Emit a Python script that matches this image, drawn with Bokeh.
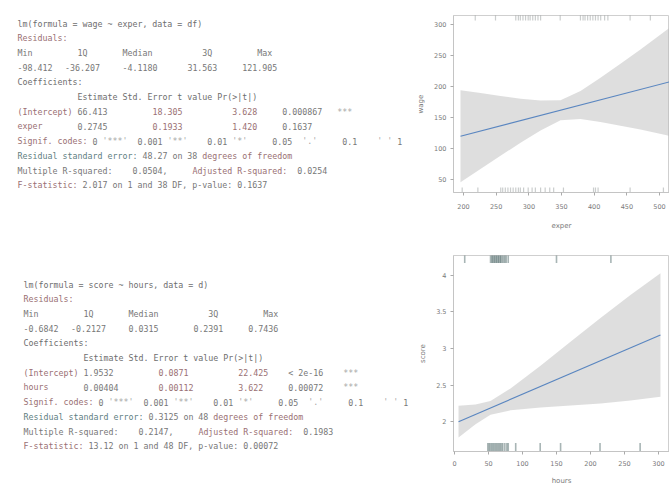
from bokeh.plotting import figure
from bokeh.layouts import row, column
from bokeh.models import ColumnDataSource, Range1d, FixedTicker
from bokeh.core.properties import value
from bokeh.embed import file_html
from bokeh.resources import INLINE

# ---------------- data: model summaries ----------------
resid_labels = ["Min", "1Q", "Median", "3Q", "Max"]
coef_header = "Estimate Std. Error t value Pr(>|t|)"

formula1 = "lm(formula = wage ~ exper, data = df)"
resid1 = [-98.412, -36.207, -4.118, 31.563, 121.905]
names1 = ["(Intercept)", "exper"]
est1 = [66.4129, 0.2745]
se1 = [18.3052, 0.1933]
tval1 = [3.628, 1.420]
pval1 = ["0.000867", "0.1637"]
stars1 = ["***", ""]
rse1, dof1, r2_1, adjr2_1, fstat1, fp1 = 48.27, 38, 0.0504, 0.0254, 2.017, "0.1637"

formula2 = "lm(formula = score ~ hours, data = d)"
resid2 = [-0.6842, -0.2127, 0.0315, 0.2391, 0.7436]
names2 = ["(Intercept)", "hours"]
est2 = [1.9532, 0.00404]
se2 = [0.0871, 0.00112]
tval2 = [22.425, 3.622]
pval2 = ["< 2e-16", "0.00072"]
stars2 = ["***", "***"]
rse2, dof2, r2_2, adjr2_2, fstat2, fp2 = 0.3125, 48, 0.2147, 0.1983, 13.12, "0.00072"

signif_tokens = ["Signif.", "codes:", "0", "'***'", "0.001", "'**'", "0.01", "'*'",
                 "0.05", "'.'", "0.1", "' '", "1"]

# ---------------- data: plot 1 ----------------
fit1_x = [195.4, 515.3]
fit1_y = [119.7, 207.4]
band1_x = [195.4, 226.0, 256.6, 287.3, 317.9, 348.5, 379.1, 409.7, 440.3, 470.9, 515.3]
band1_lo = [45.5, 66.8, 88.1, 109.4, 129.0, 145.5, 147.4, 142.9, 136.8, 130.6, 120.3]
band1_hi = [193.9, 189.4, 184.8, 180.3, 177.4, 177.7, 192.6, 213.9, 236.8, 259.7, 294.5]
rug1_top = [218, 249, 280, 284, 287, 291, 295, 299, 302, 306, 310, 314, 318, 348,
            379, 383, 386, 390, 394, 398, 402, 406, 410, 416, 421, 455, 486]
rug1_bottom = [198, 222, 257, 260, 264, 268, 272, 276, 280, 284, 287, 292, 299, 305,
               310, 318, 325, 332, 338, 353, 399, 402, 406, 455, 506]
xticks1 = [200, 250, 300, 350, 400, 450, 500]
yticks1 = [50, 100, 150, 200, 250, 300]

# ---------------- data: plot 2 ----------------
fit2_x = [5.9, 302.9]
fit2_y = [2.0, 3.185]
band2_x = [5.9, 30.9, 52.9, 82.4, 126.5, 170.6, 214.7, 258.8, 302.9]
band2_lo = [1.782, 1.963, 2.093, 2.155, 2.195, 2.220, 2.248, 2.288, 2.341]
band2_hi = [2.218, 2.235, 2.283, 2.454, 2.766, 3.091, 3.418, 3.731, 4.029]
rug2_top = [15, 53, 55, 56, 58, 59, 61, 62, 64, 65, 67, 68, 70, 72, 74, 76, 79, 150, 230]
rug2_bottom = [49, 51, 53, 55, 57, 59, 61, 63, 65, 67, 69, 71, 74, 77, 79, 90, 126, 156, 214, 273]
xticks2 = [0, 50, 100, 150, 200, 250, 300]
yticks2 = [2.0, 2.5, 3.0, 3.5, 4.0]

# ---------------- styles ----------------
GRAY = "#777777"
DGRAY = "#6e6e6e"
MAUVE = "#9a7073"
TEAL = "#5f8082"
LIGHT = "#a8a8a8"
MONO = "DejaVu Sans Mono"
FS = 8.3
CW = 0.602 * FS
LH = 14.7

RES_HEAD_COLS = [0, 12, 21, 37, 48]
RES_VAL_COLS = [0, 9.5, 21, 34, 45]
COEF_COLS = [0, 12, 27, 43, 53, 64]
SIGNIF_COLS = [0, 8, 15, 17, 24, 30, 38, 43, 51, 57, 65, 72, 76]
SIGNIF_COLORS = [MAUVE, MAUVE, GRAY, LIGHT, GRAY, LIGHT, GRAY, LIGHT, GRAY, LIGHT, GRAY, LIGHT, GRAY]

recs = {"x": [], "y": [], "text": [], "color": []}


def put(x0, y, col, txt, color):
    recs["x"].append(x0 + col * CW)
    recs["y"].append(y)
    recs["text"].append(txt)
    recs["color"].append(color)


def block(x0, y0, formula, resid, names, est, se, tv, pv, st, rse, dof, r2, adj, fst, fp):
    def yy(i):
        return y0 + i * LH
    put(x0, yy(0), 0, formula, DGRAY)
    put(x0, yy(1), 0, "Residuals:", MAUVE)
    for c, lab in zip(RES_HEAD_COLS, resid_labels):
        put(x0, yy(2), c, lab, GRAY)
    for c, v in zip(RES_VAL_COLS, resid):
        put(x0, yy(3), c, f"{v:.3f}" if abs(v) >= 10 else f"{v:.4f}", GRAY)
    put(x0, yy(4), 0, "Coefficients:", DGRAY)
    put(x0, yy(5), 12, coef_header, DGRAY)
    for i in range(2):
        vals = [names[i], f"{est[i]:.5g}", f"{se[i]:.5g}", f"{tv[i]:.3f}", pv[i], st[i]]
        cols = [MAUVE, GRAY, MAUVE, MAUVE, GRAY, LIGHT]
        for c, t, colr in zip(COEF_COLS, vals, cols):
            put(x0, yy(6 + i), c, t, colr)
    for c, t, colr in zip(SIGNIF_COLS, signif_tokens, SIGNIF_COLORS):
        put(x0, yy(8), c, t, colr)
    put(x0, yy(9), 0, "Residual standard error:", TEAL)
    put(x0, yy(9), 25, f"{rse:g} on {dof}", GRAY)
    put(x0, yy(9), 25 + len(f"{rse:g} on {dof}") + 1, "degrees of freedom", MAUVE)
    put(x0, yy(10), 0, "Multiple R-squared:", GRAY)
    put(x0, yy(10), 23, f"{r2:.4f},", GRAY)
    put(x0, yy(10), 35, "Adjusted R-squared:", MAUVE)
    put(x0, yy(10), 56, f"{adj:.4f}", GRAY)
    put(x0, yy(11), 0, "F-statistic:", MAUVE)
    put(x0, yy(11), 13, f"{fst:g} on 1 and {dof} DF,  p-value: {fp}", GRAY)


block(17, 23, formula1, resid1, names1, est1, se1, tval1, pval1, stars1,
      rse1, dof1, r2_1, adjr2_1, fstat1, fp1)
block(23, 284, formula2, resid2, names2, est2, se2, tval2, pval2, stars2,
      rse2, dof2, r2_2, adjr2_2, fstat2, fp2)

TW, TH = 413, 487
pt = figure(width=TW, height=TH, x_range=Range1d(0, TW), y_range=Range1d(TH, 0),
            x_axis_type=None, y_axis_type=None, output_backend="svg",
            toolbar_location=None, min_border=0)
pt.grid.visible = False
pt.outline_line_color = None
pt.text(x="x", y="y", text="text", text_color="color", source=ColumnDataSource(recs),
        text_font=value(MONO), text_font_size=f"{FS}px", text_baseline="middle",
        text_align="left")


def make_plot(h, btop, bbot, xr, yr, xt, yt, xlab, ylab, xstand, xlabstand):
    p = figure(width=256, height=h, x_range=Range1d(*xr), y_range=Range1d(*yr),
               output_backend="svg", toolbar_location=None,
               min_border_left=40, min_border_right=0, min_border_top=btop,
               min_border_bottom=bbot)
    p.grid.visible = False
    p.outline_line_color = "#cfcfcf"
    p.xaxis.ticker = FixedTicker(ticks=xt)
    p.yaxis.ticker = FixedTicker(ticks=yt)
    p.xaxis.axis_label = xlab
    p.yaxis.axis_label = ylab
    for ax in (p.xaxis[0], p.yaxis[0]):
        ax.axis_line_color = "#c4c4c4"
        ax.major_tick_line_color = "#aaaaaa"
        ax.minor_tick_line_color = None
        ax.major_tick_out = 3
        ax.major_tick_in = 0
        ax.major_label_text_font = "DejaVu Sans"
        ax.major_label_text_font_size = "6.5px"
        ax.major_label_text_color = "#7a7a7a"
        ax.axis_label_text_font = "DejaVu Sans"
        ax.axis_label_text_font_size = "7px"
        ax.axis_label_text_font_style = "normal"
        ax.axis_label_text_color = "#7a7a7a"
    p.yaxis[0].major_label_standoff = 4
    p.yaxis[0].axis_label_standoff = 6
    p.xaxis[0].major_label_standoff = xstand
    p.xaxis[0].axis_label_standoff = xlabstand
    return p


p1 = make_plot(245, 15, 53, (184.7, 515.3), (29, 314.5), xticks1, yticks1,
               "exper", "wage", 8, 10)
p1.varea(x=band1_x, y1=band1_lo, y2=band1_hi, fill_color="#bdbdbd", fill_alpha=0.5)
p1.line(fit1_x, fit1_y, line_color="#5a86c0", line_width=1.1)
p1.scatter(rug1_top, [314.5] * len(rug1_top), marker="dash", angle=1.5708, size=10,
           line_color="#4f5a5a", line_alpha=0.3, line_width=1.2)
p1.scatter(rug1_bottom, [29] * len(rug1_bottom), marker="dash", angle=1.5708, size=10,
           line_color="#4f5a5a", line_alpha=0.3, line_width=1.2)

p2 = make_plot(242, 10, 35, (-1.5, 316.2), (1.592, 4.272), xticks2, yticks2,
               "hours", "score", 6, 8)
p2.varea(x=band2_x, y1=band2_lo, y2=band2_hi, fill_color="#bdbdbd", fill_alpha=0.5)
p2.line(fit2_x, fit2_y, line_color="#5a86c0", line_width=1.1)
p2.scatter(rug2_top, [4.272] * len(rug2_top), marker="dash", angle=1.5708, size=15,
           line_color="#3f5c5c", line_alpha=0.45, line_width=1.6)
p2.scatter(rug2_bottom, [1.592] * len(rug2_bottom), marker="dash", angle=1.5708, size=17,
           line_color="#3f5c5c", line_alpha=0.45, line_width=1.6)

layout = row(pt, column(p1, p2))
open("out.html", "w").write(file_html(layout, INLINE))
